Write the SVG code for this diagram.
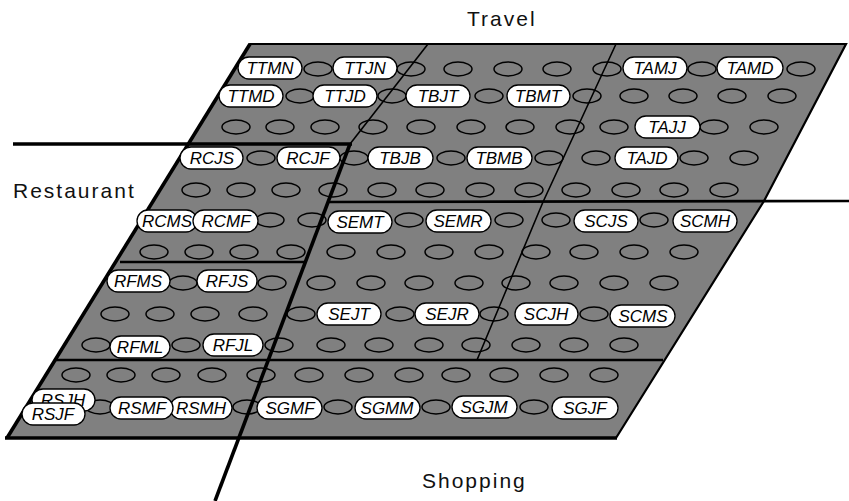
<svg xmlns="http://www.w3.org/2000/svg" width="849" height="501" viewBox="0 0 849 501">
<style>
.bg{fill:#fff}
.board{fill:#808080;stroke:#000;stroke-width:2.2;stroke-linejoin:miter}
.slot{fill:none;stroke:#000;stroke-width:1.5}
.thin{stroke:#000;stroke-width:1.6;fill:none}
.mid{stroke:#000;stroke-width:2.6;fill:none}
.thick{stroke:#000;stroke-width:3.6;fill:none}
.pill rect{fill:#fff;stroke:#000;stroke-width:1.3}
.pill text{font-family:"Liberation Sans",Arial,sans-serif;font-style:italic;font-size:17px;text-anchor:middle;fill:#000}
.lbl{font-family:"Liberation Sans",Arial,sans-serif;font-size:21px;letter-spacing:2px;fill:#111}
</style>
<rect class="bg" x="0" y="0" width="849" height="501"/>
<g id="board">
<polygon class="board" points="250,44 846,44 764,201 616,438 7,438"/>
<line class="thick" x1="250" y1="44" x2="7" y2="438"/>
<line class="thick" x1="5" y1="438" x2="617" y2="438"/>
</g>
<g id="slots">
<!-- row 1 -->
<ellipse class="slot" cx="318" cy="69" rx="14" ry="7"/><ellipse class="slot" cx="411" cy="69" rx="14" ry="7"/><ellipse class="slot" cx="458" cy="69" rx="14" ry="7"/><ellipse class="slot" cx="508" cy="69" rx="14" ry="7"/><ellipse class="slot" cx="557" cy="69" rx="14" ry="7"/><ellipse class="slot" cx="607" cy="69" rx="14" ry="7"/><ellipse class="slot" cx="702" cy="69" rx="14" ry="7"/><ellipse class="slot" cx="801" cy="69" rx="14" ry="7"/>
<!-- row 2 -->
<ellipse class="slot" cx="300" cy="96" rx="14" ry="7"/><ellipse class="slot" cx="392" cy="96" rx="14" ry="7"/><ellipse class="slot" cx="489" cy="96" rx="14" ry="7"/><ellipse class="slot" cx="587" cy="96" rx="14" ry="7"/><ellipse class="slot" cx="634" cy="96" rx="14" ry="7"/><ellipse class="slot" cx="683" cy="96" rx="14" ry="7"/><ellipse class="slot" cx="732" cy="96" rx="14" ry="7"/><ellipse class="slot" cx="782" cy="96" rx="14" ry="7"/>
<!-- row 3 -->
<ellipse class="slot" cx="236" cy="127" rx="14" ry="7"/><ellipse class="slot" cx="280" cy="127" rx="14" ry="7"/><ellipse class="slot" cx="325" cy="127" rx="14" ry="7"/><ellipse class="slot" cx="373" cy="127" rx="14" ry="7"/><ellipse class="slot" cx="421" cy="127" rx="14" ry="7"/><ellipse class="slot" cx="471" cy="127" rx="14" ry="7"/><ellipse class="slot" cx="520" cy="127" rx="14" ry="7"/><ellipse class="slot" cx="570" cy="127" rx="14" ry="7"/><ellipse class="slot" cx="614" cy="127" rx="14" ry="7"/><ellipse class="slot" cx="714" cy="127" rx="14" ry="7"/><ellipse class="slot" cx="764" cy="127" rx="14" ry="7"/>
<!-- row 4 -->
<ellipse class="slot" cx="261" cy="158" rx="14" ry="7"/><ellipse class="slot" cx="354" cy="158" rx="14" ry="7"/><ellipse class="slot" cx="451" cy="158" rx="14" ry="7"/><ellipse class="slot" cx="549" cy="158" rx="14" ry="7"/><ellipse class="slot" cx="596" cy="158" rx="14" ry="7"/><ellipse class="slot" cx="694" cy="158" rx="14" ry="7"/><ellipse class="slot" cx="744" cy="158" rx="14" ry="7"/>
<!-- row 5 -->
<ellipse class="slot" cx="196" cy="190" rx="14" ry="7"/><ellipse class="slot" cx="241" cy="190" rx="14" ry="7"/><ellipse class="slot" cx="286" cy="190" rx="14" ry="7"/><ellipse class="slot" cx="333" cy="190" rx="14" ry="7"/><ellipse class="slot" cx="382" cy="190" rx="14" ry="7"/><ellipse class="slot" cx="430" cy="190" rx="14" ry="7"/><ellipse class="slot" cx="480" cy="190" rx="14" ry="7"/><ellipse class="slot" cx="529" cy="190" rx="14" ry="7"/><ellipse class="slot" cx="576" cy="190" rx="14" ry="7"/><ellipse class="slot" cx="626" cy="190" rx="14" ry="7"/><ellipse class="slot" cx="674" cy="190" rx="14" ry="7"/><ellipse class="slot" cx="724" cy="190" rx="14" ry="7"/>
<!-- row 6 -->
<ellipse class="slot" cx="270" cy="220" rx="14" ry="7"/><ellipse class="slot" cx="312" cy="220" rx="14" ry="7"/><ellipse class="slot" cx="409" cy="220" rx="14" ry="7"/><ellipse class="slot" cx="509" cy="220" rx="14" ry="7"/><ellipse class="slot" cx="556" cy="220" rx="14" ry="7"/><ellipse class="slot" cx="654" cy="220" rx="14" ry="7"/>
<!-- row 7 -->
<ellipse class="slot" cx="154" cy="252" rx="14" ry="7"/><ellipse class="slot" cx="199" cy="252" rx="14" ry="7"/><ellipse class="slot" cx="244" cy="252" rx="14" ry="7"/><ellipse class="slot" cx="291" cy="252" rx="14" ry="7"/><ellipse class="slot" cx="341" cy="252" rx="14" ry="7"/><ellipse class="slot" cx="391" cy="252" rx="14" ry="7"/><ellipse class="slot" cx="439" cy="252" rx="14" ry="7"/><ellipse class="slot" cx="489" cy="252" rx="14" ry="7"/><ellipse class="slot" cx="536" cy="252" rx="14" ry="7"/><ellipse class="slot" cx="584" cy="252" rx="14" ry="7"/><ellipse class="slot" cx="634" cy="252" rx="14" ry="7"/><ellipse class="slot" cx="684" cy="252" rx="14" ry="7"/>
<!-- row 8 -->
<ellipse class="slot" cx="183" cy="283" rx="14" ry="7"/><ellipse class="slot" cx="272" cy="283" rx="14" ry="7"/><ellipse class="slot" cx="321" cy="283" rx="14" ry="7"/><ellipse class="slot" cx="371" cy="283" rx="14" ry="7"/><ellipse class="slot" cx="419" cy="283" rx="14" ry="7"/><ellipse class="slot" cx="469" cy="283" rx="14" ry="7"/><ellipse class="slot" cx="516" cy="283" rx="14" ry="7"/><ellipse class="slot" cx="564" cy="283" rx="14" ry="7"/><ellipse class="slot" cx="614" cy="283" rx="14" ry="7"/><ellipse class="slot" cx="664" cy="283" rx="14" ry="7"/>
<!-- row 9 -->
<ellipse class="slot" cx="115" cy="314" rx="14" ry="7"/><ellipse class="slot" cx="160" cy="314" rx="14" ry="7"/><ellipse class="slot" cx="205" cy="314" rx="14" ry="7"/><ellipse class="slot" cx="253" cy="314" rx="14" ry="7"/><ellipse class="slot" cx="301" cy="314" rx="14" ry="7"/><ellipse class="slot" cx="400" cy="314" rx="14" ry="7"/><ellipse class="slot" cx="494" cy="314" rx="14" ry="7"/><ellipse class="slot" cx="594" cy="314" rx="14" ry="7"/>
<!-- row 10 -->
<ellipse class="slot" cx="96" cy="345" rx="14" ry="7"/><ellipse class="slot" cx="186" cy="345" rx="14" ry="7"/><ellipse class="slot" cx="279" cy="345" rx="14" ry="7"/><ellipse class="slot" cx="331" cy="345" rx="14" ry="7"/><ellipse class="slot" cx="379" cy="345" rx="14" ry="7"/><ellipse class="slot" cx="429" cy="345" rx="14" ry="7"/><ellipse class="slot" cx="476" cy="345" rx="14" ry="7"/><ellipse class="slot" cx="526" cy="345" rx="14" ry="7"/><ellipse class="slot" cx="574" cy="345" rx="14" ry="7"/><ellipse class="slot" cx="624" cy="345" rx="14" ry="7"/>
<!-- row 11 -->
<ellipse class="slot" cx="76" cy="375" rx="14" ry="7"/><ellipse class="slot" cx="121" cy="375" rx="14" ry="7"/><ellipse class="slot" cx="166" cy="375" rx="14" ry="7"/><ellipse class="slot" cx="212" cy="375" rx="14" ry="7"/><ellipse class="slot" cx="261" cy="375" rx="14" ry="7"/><ellipse class="slot" cx="309" cy="375" rx="14" ry="7"/><ellipse class="slot" cx="359" cy="375" rx="14" ry="7"/><ellipse class="slot" cx="409" cy="375" rx="14" ry="7"/><ellipse class="slot" cx="456" cy="375" rx="14" ry="7"/><ellipse class="slot" cx="504" cy="375" rx="14" ry="7"/><ellipse class="slot" cx="554" cy="375" rx="14" ry="7"/><ellipse class="slot" cx="604" cy="375" rx="14" ry="7"/>
<!-- row 12 -->
<ellipse class="slot" cx="100" cy="407" rx="14" ry="7"/><ellipse class="slot" cx="247" cy="407" rx="14" ry="7"/><ellipse class="slot" cx="338" cy="407" rx="14" ry="7"/><ellipse class="slot" cx="436" cy="407" rx="14" ry="7"/><ellipse class="slot" cx="534" cy="407" rx="14" ry="7"/>
</g>
<g id="connectors">
<polyline class="thin" points="428,44 350,144"/>
<polyline class="thin" points="616,44 543,202 477,360"/>
<line class="thick" x1="13" y1="144" x2="352" y2="144"/>
<line class="thick" x1="350" y1="144" x2="215" y2="501"/>
<line class="mid" x1="328" y1="202" x2="849" y2="201"/>
<line class="mid" x1="120" y1="262" x2="306" y2="262"/>
<line class="mid" x1="56" y1="360" x2="663" y2="360"/>
</g>
<g id="labels">
<text class="lbl" x="467" y="26">Travel</text>
<text class="lbl" x="13" y="198">Restaurant</text>
<text class="lbl" x="422" y="488">Shopping</text>
</g>
<g id="n-TTMN" class="pill"><rect x="238" y="57" width="64" height="22" rx="11"/><text x="270" y="74">TTMN</text></g>
<g id="n-TTJN" class="pill"><rect x="333" y="57" width="64" height="22" rx="11"/><text x="365" y="74">TTJN</text></g>
<g id="n-TAMJ" class="pill"><rect x="623" y="57" width="64" height="22" rx="11"/><text x="655" y="74">TAMJ</text></g>
<g id="n-TAMD" class="pill"><rect x="717" y="57" width="66" height="22" rx="11"/><text x="750" y="74">TAMD</text></g>
<g id="n-TTMD" class="pill"><rect x="219" y="85" width="64" height="22" rx="11"/><text x="251" y="102">TTMD</text></g>
<g id="n-TTJD" class="pill"><rect x="313" y="85" width="64" height="22" rx="11"/><text x="345" y="102">TTJD</text></g>
<g id="n-TBJT" class="pill"><rect x="406" y="85" width="64" height="22" rx="11"/><text x="438" y="102">TBJT</text></g>
<g id="n-TBMT" class="pill"><rect x="507" y="85" width="63" height="22" rx="11"/><text x="538" y="102">TBMT</text></g>
<g id="n-TAJJ" class="pill"><rect x="635" y="116" width="65" height="22" rx="11"/><text x="667" y="133">TAJJ</text></g>
<g id="n-RCJS" class="pill"><rect x="180" y="147" width="63" height="22" rx="11"/><text x="212" y="164">RCJS</text></g>
<g id="n-RCJF" class="pill"><rect x="277" y="147" width="63" height="22" rx="11"/><text x="308" y="164">RCJF</text></g>
<g id="n-TBJB" class="pill"><rect x="368" y="147" width="65" height="22" rx="11"/><text x="400" y="164">TBJB</text></g>
<g id="n-TBMB" class="pill"><rect x="467" y="147" width="65" height="22" rx="11"/><text x="499" y="164">TBMB</text></g>
<g id="n-TAJD" class="pill"><rect x="615" y="147" width="63" height="22" rx="11"/><text x="647" y="164">TAJD</text></g>
<g id="n-RCMS" class="pill"><rect x="137" y="210" width="60" height="22" rx="11"/><text x="167" y="227">RCMS</text></g>
<g id="n-RCMF" class="pill"><rect x="193" y="210" width="65" height="22" rx="11"/><text x="226" y="227">RCMF</text></g>
<g id="n-SEMT" class="pill"><rect x="328" y="211" width="64" height="22" rx="11"/><text x="360" y="228">SEMT</text></g>
<g id="n-SEMR" class="pill"><rect x="426" y="210" width="65" height="22" rx="11"/><text x="458" y="227">SEMR</text></g>
<g id="n-SCJS" class="pill"><rect x="574" y="210" width="64" height="22" rx="11"/><text x="606" y="227">SCJS</text></g>
<g id="n-SCMH" class="pill"><rect x="673" y="210" width="64" height="22" rx="11"/><text x="705" y="227">SCMH</text></g>
<g id="n-RFMS" class="pill"><rect x="107" y="270" width="63" height="22" rx="11"/><text x="138" y="287">RFMS</text></g>
<g id="n-RFJS" class="pill"><rect x="197" y="270" width="60" height="22" rx="11"/><text x="227" y="287">RFJS</text></g>
<g id="n-SEJT" class="pill"><rect x="317" y="303" width="64" height="22" rx="11"/><text x="349" y="320">SEJT</text></g>
<g id="n-SEJR" class="pill"><rect x="415" y="303" width="64" height="22" rx="11"/><text x="447" y="320">SEJR</text></g>
<g id="n-SCJH" class="pill"><rect x="515" y="303" width="63" height="22" rx="11"/><text x="546" y="320">SCJH</text></g>
<g id="n-SCMS" class="pill"><rect x="610" y="305" width="65" height="22" rx="11"/><text x="643" y="322">SCMS</text></g>
<g id="n-RFML" class="pill"><rect x="110" y="336" width="60" height="22" rx="11"/><text x="140" y="353">RFML</text></g>
<g id="n-RFJL" class="pill"><rect x="203" y="334" width="60" height="22" rx="11"/><text x="233" y="351">RFJL</text></g>
<g id="n-RSJH" class="pill"><rect x="32" y="389" width="63" height="22" rx="11"/><text x="63" y="406">RSJH</text></g>
<g id="n-RSJF" class="pill"><rect x="22" y="403" width="63" height="22" rx="11"/><text x="53" y="420">RSJF</text></g>
<g id="n-RSMH" class="pill"><rect x="170" y="397" width="62" height="22" rx="11"/><text x="201" y="414">RSMH</text></g>
<g id="n-RSMF" class="pill"><rect x="110" y="397" width="63" height="22" rx="11"/><text x="142" y="414">RSMF</text></g>
<g id="n-SGMF" class="pill"><rect x="257" y="397" width="65" height="22" rx="11"/><text x="290" y="414">SGMF</text></g>
<g id="n-SGMM" class="pill"><rect x="355" y="397" width="65" height="22" rx="11"/><text x="387" y="414">SGMM</text></g>
<g id="n-SGJM" class="pill"><rect x="452" y="396" width="65" height="22" rx="11"/><text x="484" y="413">SGJM</text></g>
<g id="n-SGJF" class="pill"><rect x="552" y="397" width="66" height="22" rx="11"/><text x="585" y="414">SGJF</text></g>
</svg>
